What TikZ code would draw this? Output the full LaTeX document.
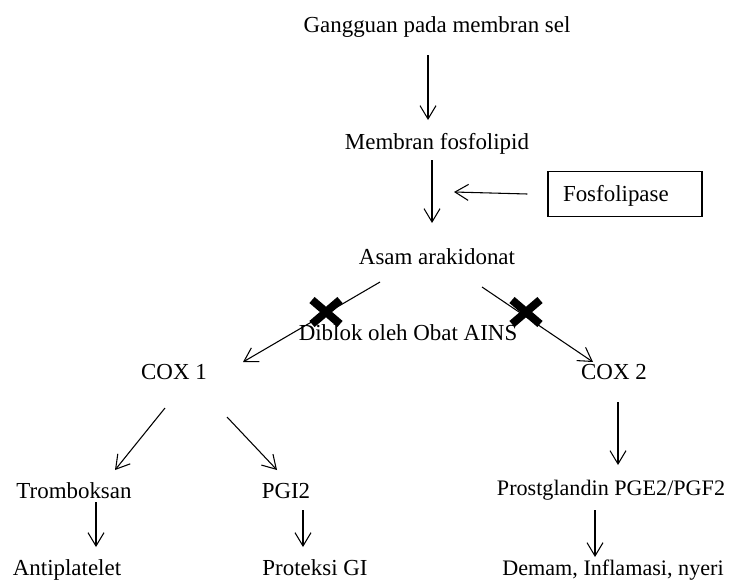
\documentclass[tikz,border=0pt]{standalone}
\usepackage{fontspec}
\setmainfont{Liberation Serif}
\usetikzlibrary{arrows.meta,shapes.misc}

\tikzset{
  txt/.style={font=\fontsize{17.2}{20}\selectfont, inner sep=0pt, text height=11.4pt, text depth=0pt},
  txtsm/.style={txt, font=\fontsize{16.6}{20}\selectfont},
  arr/.style={-{Straight Barb[length=10pt,width=12pt]}, line width=0.8pt},
  blok/.style={draw, cross out, line width=6pt, minimum width=15pt, minimum height=12pt, inner sep=0pt},
}

\begin{document}
\begin{tikzpicture}[x=0.75pt,y=-0.75pt]
  \useasboundingbox (0,0) rectangle (730,579);
  % jalur utama
  \node[txt] (gang) at (437,25) {Gangguan pada membran sel};
  \node[txt] (memb) at (437,142) {Membran fosfolipid};
  \node[txt, draw, line width=0.8pt, text width=93pt, align=left, inner xsep=11.25pt,
        minimum height=33.75pt] (fosf) at (625,194) {Fosfolipase};
  \node[txt] (asam) at (437,257) {Asam arakidonat};
  \node[txt] (diblok) at (408,333) {Diblok oleh Obat AINS};
  \node[txt] (cox1) at (174,372) {COX 1};
  \node[txt] (cox2) at (614,372) {COX 2};
  \node[txt] (trom) at (74,491) {Tromboksan};
  \node[txt] (pgi) at (286,491) {PGI2};
  \node[txtsm] (prost) at (611,488) {Prostglandin PGE2/PGF2};
  \node[txt] (anti) at (67,568) {Antiplatelet};
  \node[txt] (prot) at (315,568) {Proteksi GI};
  \node[txtsm] (demam) at (613,568) {Demam, Inflamasi, nyeri};
  \coordinate (hit) at (454,192);

  \draw[arr] ([shift={(-9,30)}]gang.center) -- ([shift={(-9,-22)}]memb.center);
  \draw[arr] ([shift={(-5,18)}]memb.center) -- ([shift={(-5,-34)}]asam.center);
  \draw[arr] ([xshift=-15pt]fosf.west) -- (hit);
  \draw[arr] ([shift={(-57,25)}]asam.center) -- ([shift={(69,-10)}]cox1.center);
  \draw[arr] ([shift={(45,30)}]asam.center) -- ([shift={(-21,-10)}]cox2.center);
  % cabang COX 1
  \draw[arr] ([shift={(-9,36)}]cox1.center) -- ([shift={(41,-21)}]trom.center);
  \draw[arr] ([shift={(53,45)}]cox1.center) -- ([shift={(-9,-21)}]pgi.center);
  \draw[arr] ([shift={(22,11)}]trom.center) -- ([shift={(29,-21)}]anti.center);
  \draw[arr] ([shift={(17,19)}]pgi.center) -- ([shift={(-12,-21)}]prot.center);
  % cabang COX 2
  \draw[arr] ([shift={(4,30)}]cox2.center) -- ([shift={(7,-23)}]prost.center);
  \draw[arr] ([shift={(-16,22)}]prost.center) -- ([shift={(-18,-11)}]demam.center);

  \node[blok] (xl) at (326,312) {};
  \node[blok] (xr) at (526,312) {};
\end{tikzpicture}
\end{document}
